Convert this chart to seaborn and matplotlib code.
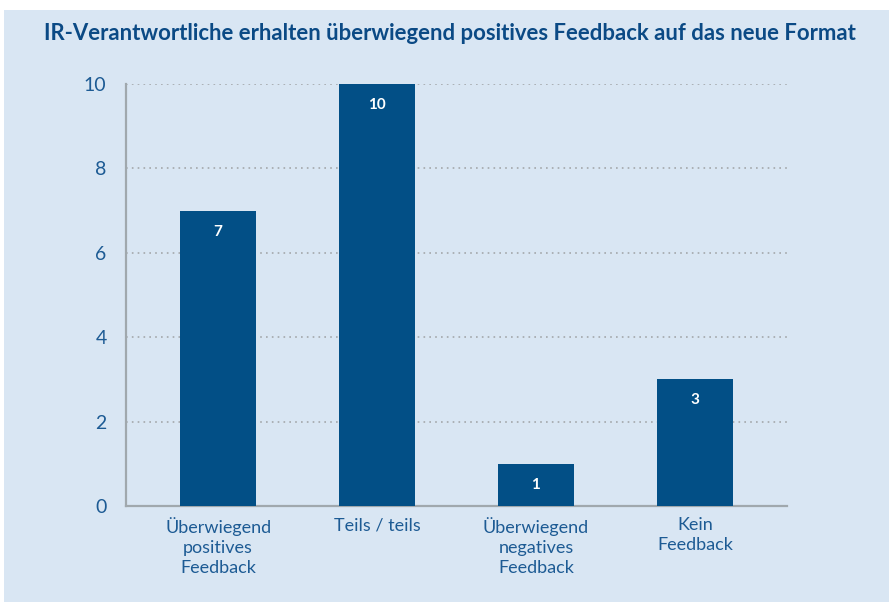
import matplotlib
matplotlib.use("Agg")
import matplotlib.pyplot as plt
import seaborn as sns
import pandas as pd
from matplotlib.patches import Rectangle

# Data
categories = ["Überwiegend\npositives\nFeedback", "Teils / teils",
              "Überwiegend\nnegatives\nFeedback", "Kein\nFeedback"]
counts = [7, 10, 1, 3]
yticks = [0, 2, 4, 6, 8, 10]
title = "IR-Verantwortliche erhalten überwiegend positives Feedback auf das neue Format"

bg = "#d9e6f3"
bar_color = "#024f86"
text_color = "#1d5b94"

sns.set_theme(style="white")
plt.rcParams["font.family"] = ["Lato", "DejaVu Sans"]

df = pd.DataFrame({"cat": categories, "n": counts})

fig = plt.figure(figsize=(8.89, 6.02), dpi=100, facecolor="white")
# light blue panel (white strip at top and left edge)
fig.patches.append(Rectangle((4 / 889, 0), 1 - 4 / 889, 1 - 10 / 602,
                             transform=fig.transFigure, facecolor=bg,
                             edgecolor="none", zorder=-10))

ax = fig.add_axes([126 / 889, 1 - 506 / 602, (787 - 126) / 889, (506 - 84) / 602])
ax.set_facecolor(bg)
ax.patch.set_alpha(0)

sns.barplot(data=df, x="cat", y="n", color=bar_color, width=0.48,
            saturation=1, linewidth=0, edgecolor="none", ax=ax, zorder=3)

ax.set_xlim(-0.58, 3.58)
ax.set_ylim(0, 10)
ax.set_yticks(yticks)
for v in yticks[1:]:
    ax.axhline(v, color="#a3a7aa", linestyle=(0, (1, 2.5)), linewidth=1.2, zorder=1)

for i, v in enumerate(counts):
    ax.text(i, v - 0.5, str(v), ha="center", va="center", color="white",
            fontsize=11, fontweight="bold", zorder=4)

ax.set_xlabel("")
ax.set_ylabel("")
ax.tick_params(axis="both", length=0, colors=text_color)
ax.tick_params(axis="y", labelsize=14, pad=14)
ax.tick_params(axis="x", labelsize=13, pad=8)
for lbl in ax.get_xticklabels():
    lbl.set_linespacing(1.3)

for s in ["top", "right"]:
    ax.spines[s].set_visible(False)
for s in ["left", "bottom"]:
    ax.spines[s].set_color("#a0a8ad")
    ax.spines[s].set_linewidth(1.6)

fig.text(450 / 889, 1 - 33 / 602, title, ha="center", va="center",
         fontsize=15.9, fontweight="bold", color="#0b4a85")

fig.savefig("out.png", dpi=100, facecolor="white")
